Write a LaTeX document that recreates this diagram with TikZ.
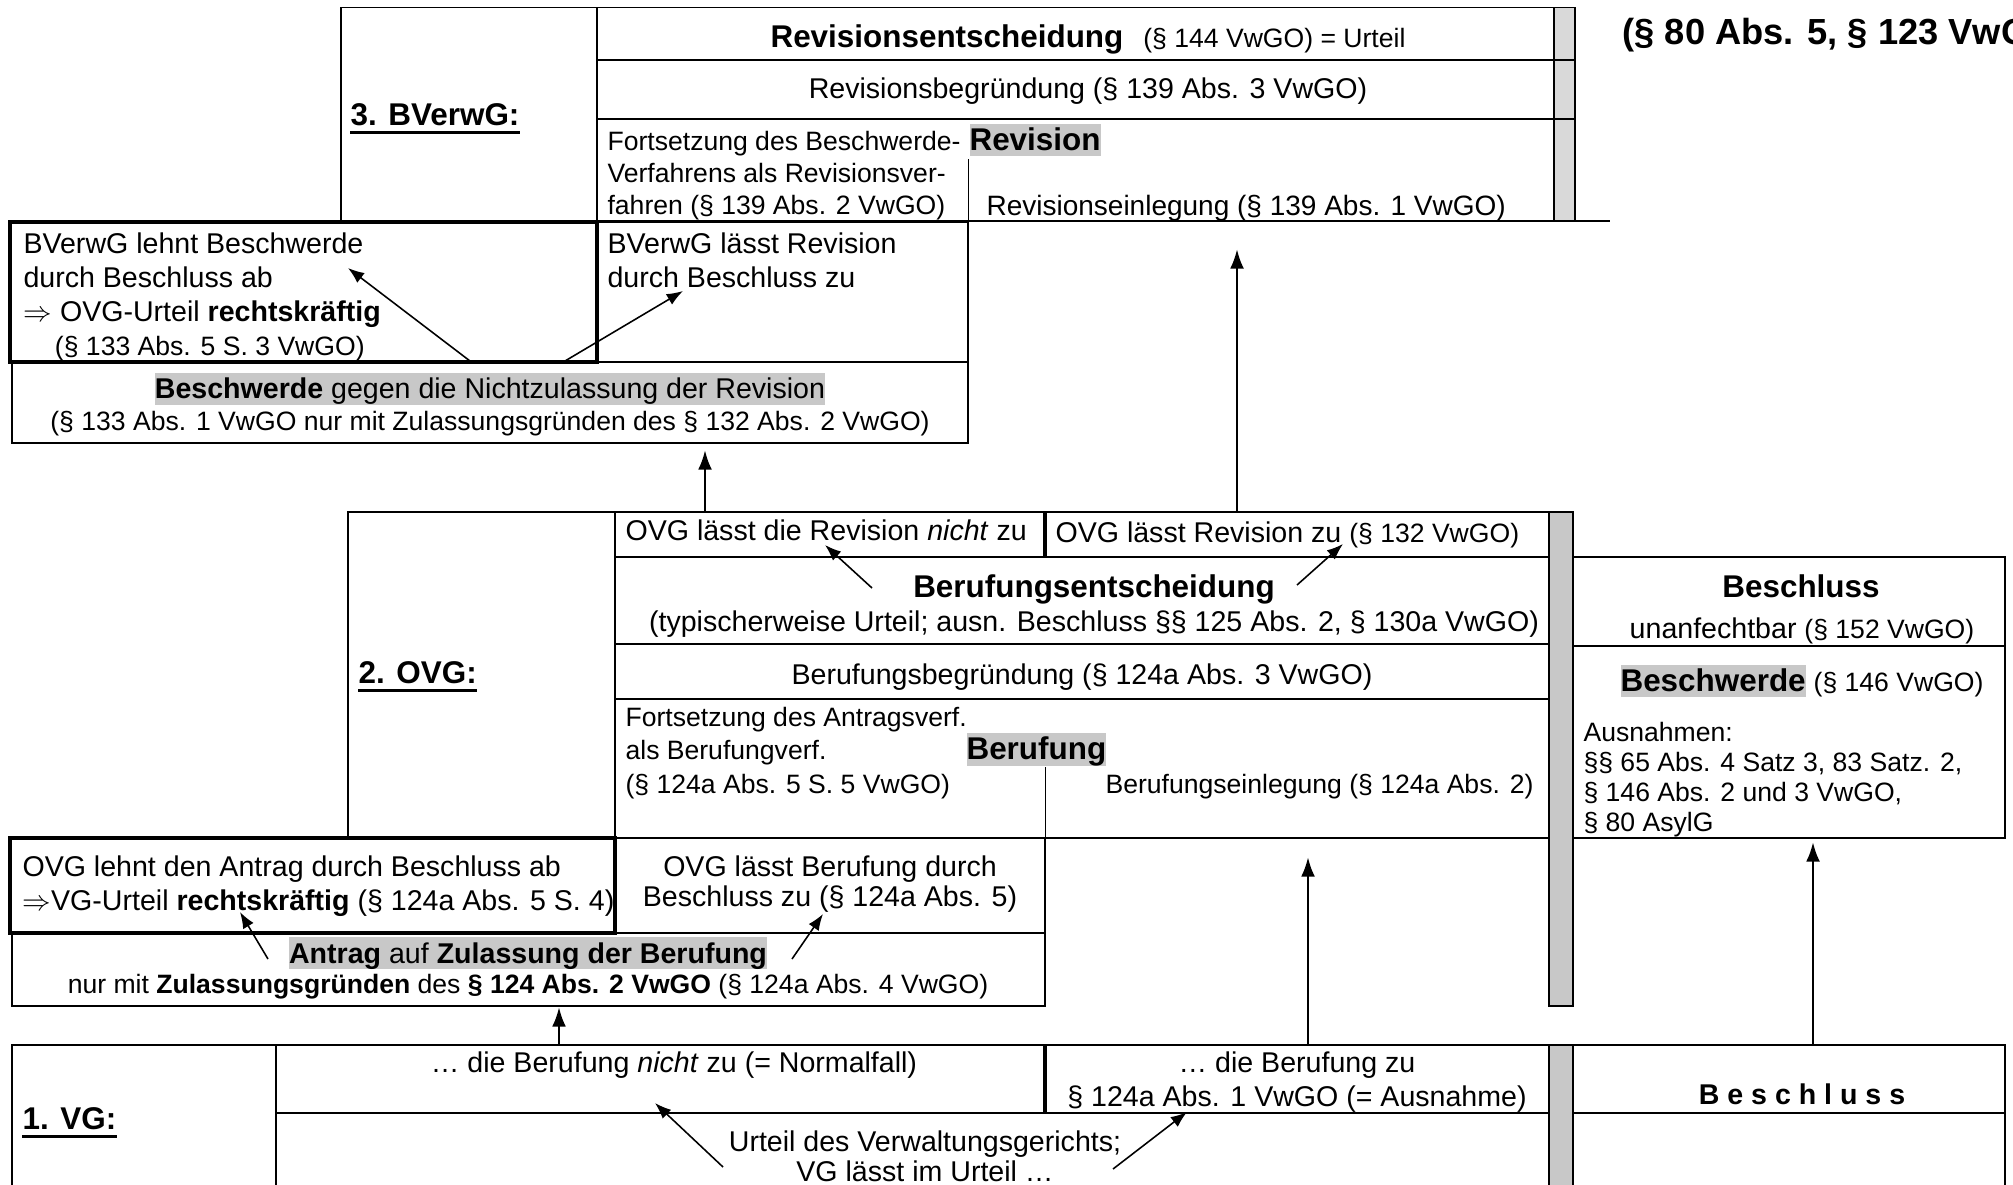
\documentclass[tikz,border=0pt]{standalone}
\usepackage{fontspec}
\setmainfont{Liberation Sans}
\usepackage{xcolor}
\usepackage{tikz}
\usetikzlibrary{arrows.meta}
\definecolor{hlgray}{HTML}{C8C8C8}
\definecolor{bargray}{HTML}{C8C8C8}
\definecolor{barlight}{HTML}{D9D9D9}
\newcommand{\hlg}[1]{{\setlength{\fboxsep}{0pt}\colorbox{hlgray}{\rule[-0.21em]{0pt}{1.12em}#1}}}
\newcommand{\parsz}{\fontsize{9.3}{11}\selectfont}
\newcommand{\hdr}{\fontsize{11}{13}\selectfont\bfseries}

\begin{document}
\begin{tikzpicture}[x=0.35pt,y=-0.35pt,
 cell/.style={line width=0.6pt},
 thk/.style={line width=1.4pt},
 fine/.style={line width=0.35pt},
 bar/.style={draw,line width=0.6pt,fill=bargray},
 txt/.style={anchor=base west,inner sep=0pt,align=left,font=\fontsize{10}{11.9}\selectfont},
 ctxt/.style={anchor=base,inner sep=0pt,align=center,font=\fontsize{10}{11.9}\selectfont},
 lbl/.style={anchor=base west,inner sep=0pt,font=\fontsize{11}{13}\selectfont\bfseries},
 arr/.style={-{Latex[length=2mm,width=1.5mm]},line width=0.55pt},
 uarr/.style={-{Latex[length=2.4mm,width=1.7mm]},line width=0.95pt}
]
\useasboundingbox (0,0) rectangle (2013,1184);

% 3. BVerwG
\draw[cell,fill=barlight] (1554,7.5) rectangle (1575,221);
\draw[cell] (341,222) -- (341,7.5) -- (1575,7.5);
\draw[cell] (597,7.5) -- (597,222);
\draw[cell] (597,60) -- (1575,60);
\draw[cell] (597,119) -- (1575,119);
\draw[cell] (597,221) -- (1610,221);
\draw[fine] (968,159) -- (968,221);
\draw[thk] (10,222) rectangle (597,362);
\draw[cell] (597,222) -- (968,222) -- (968,362);
\draw[cell] (12,362) rectangle (968,443);

% 2. OVG
\draw[cell] (348,838) -- (348,512) -- (1549,512);
\draw[bar] (1549,512) rectangle (1573,1006);
\draw[cell] (615,512) -- (615,838);
\draw[thk] (1045,512) -- (1045,557);
\foreach \yy in {557,644,699,838}
  \draw[cell] (615,\yy) -- (1549,\yy);
\draw[fine] (1045,767) -- (1045,838);
\draw[thk] (10,838) rectangle (615,933);
\draw[cell] (615,838) -- (1045,838) -- (1045,933);
\draw[cell] (12,933) rectangle (1045,1006);
\draw[cell] (1573,557) rectangle (2005,838);
\draw[cell] (1573,646) -- (2005,646);

% 1. VG
\draw[cell] (12,1200) -- (12,1045) -- (1549,1045);
\draw[cell] (276,1045) -- (276,1200);
\draw[cell] (276,1113) -- (1549,1113);
\draw[thk] (1045,1045) -- (1045,1113);
\draw[bar] (1549,1045) rectangle (1573,1200);
\draw[cell] (1573,1045) -- (2005,1045) -- (2005,1200);
\draw[cell] (1573,1113) -- (2005,1113);

% texts (multi-line nodes sit on their last baseline)
\node[anchor=base west,inner sep=0pt,font=\fontsize{12.7}{15}\selectfont\bfseries] (eil) at (1622,44) {(§ 80 Abs. 5, § 123 VwGO)};

\node[lbl] (lab3) at (350,125) {3. BVerwG:};
\node[lbl] (lab2) at (358,683) {2. OVG:};
\node[lbl] (lab1) at (22,1129) {1. VG:};
\foreach \l in {lab3,lab2,lab1}
  \draw[line width=1.1pt] ([yshift=-2.6pt]\l.base west) -- ([yshift=-2.6pt]\l.base east);

\node[txt] (revent) at (770,47) {{\hdr Revisionsentscheidung}\hspace{7pt}{\parsz(§ 144 VwGO) = Urteil}};
\node[ctxt] (revbeg) at (1088,98) {Revisionsbegründung (§ 139 Abs. 3 VwGO)};
\node[txt,font=\fontsize{9.3}{11.2}\selectfont] (fortrev) at (607,214) {Fortsetzung des Beschwerde-\\Verfahrens als Revisionsver-\\fahren (§ 139 Abs. 2 VwGO)};
\node[txt] (revhl) at (969,150) {\hlg{\hdr Revision}};
\node[txt,font=\fontsize{9.8}{11.9}\selectfont] (reveinl) at (986,215) {Revisionseinlegung (§ 139 Abs. 1 VwGO)};

\node[txt] (bvlehnt) at (23,355) {BVerwG lehnt Beschwerde\\durch Beschluss ab\\$\Rightarrow$ OVG-Urteil \textbf{rechtskräftig}\\\hspace*{11pt}{\parsz(§ 133 Abs. 5 S. 3 VwGO)}};
\node[txt] (bvzul) at (607,287) {BVerwG lässt Revision\\durch Beschluss zu};
\node[ctxt,font=\fontsize{10}{10.9}\selectfont] (nzb) at (490,430) {\hlg{\textbf{Beschwerde} gegen die Nichtzulassung der Revision}\\{\parsz(§ 133 Abs. 1 VwGO nur mit Zulassungsgründen des § 132 Abs. 2 VwGO)}};

\node[txt] (ovgnicht) at (625,540) {OVG lässt die Revision \textit{nicht} zu};
\node[txt] (ovgzul) at (1055,542) {OVG lässt Revision zu {\parsz(§ 132 VwGO)}};
\node[ctxt,font=\fontsize{10}{11.9}\selectfont] (berent) at (1094,631) {{\hdr Berufungsentscheidung}\\(typischerweise Urteil; ausn. Beschluss §§ 125 Abs. 2, § 130a VwGO)};
\node[ctxt] (berbeg) at (1082,684) {Berufungsbegründung (§ 124a Abs. 3 VwGO)};
\node[txt,font=\fontsize{9.3}{11.6}\selectfont] (fortber) at (625,793) {Fortsetzung des Antragsverf.\\als Berufungverf.\\(§ 124a Abs. 5 S. 5 VwGO)};
\node[txt] (berhl) at (966,759) {\hlg{\hdr Berufung}};
\node[txt,font=\parsz] (bereinl) at (1105,793) {Berufungseinlegung (§ 124a Abs. 2)};

\node[txt] (ovglehnt) at (22,910) {OVG lehnt den Antrag durch Beschluss ab\\$\Rightarrow$VG-Urteil \textbf{rechtskräftig} (§ 124a Abs. 5 S. 4)};
\node[ctxt,font=\fontsize{10}{10.5}\selectfont] (ovgberzul) at (830,906) {OVG lässt Berufung durch\\Beschluss zu (§ 124a Abs. 5)};
\node[ctxt,font=\fontsize{10}{10.5}\selectfont] (antrag) at (528,993) {\hlg{\textbf{Antrag} auf \textbf{Zulassung der Berufung}}\\{\parsz nur mit \textbf{Zulassungsgründen} des \textbf{§ 124 Abs. 2 VwGO} (§ 124a Abs. 4 VwGO)}};

\node[ctxt] (beschl) at (1801,597) {\hdr Beschluss};
\node[ctxt] (unanf) at (1802,638) {unanfechtbar {\parsz(§ 152 VwGO)}};
\node[ctxt] (beschw) at (1802,691) {\hlg{\hdr Beschwerde} {\parsz(§ 146 VwGO)}};
\node[txt,font=\fontsize{9.3}{10.5}\selectfont] (ausn) at (1583,831) {Ausnahmen:\\§§ 65 Abs. 4 Satz 3, 83 Satz. 2,\\§ 146 Abs. 2 und 3 VwGO,\\§ 80 AsylG};

\node[ctxt] (vgnicht) at (674,1072) {… die Berufung \textit{nicht} zu (= Normalfall)};
\node[ctxt] (vgzu) at (1297,1106) {… die Berufung zu\\§ 124a Abs. 1 VwGO (= Ausnahme)};
\node[ctxt,font=\fontsize{10}{10.2}\selectfont] (vgurteil) at (925,1181) {Urteil des Verwaltungsgerichts;\\VG lässt im Urteil …};
\node[ctxt,font=\fontsize{10}{12}\selectfont\bfseries] (vgbeschl) at (1802,1104) {B e s c h l u s s};

% arrows
\coordinate (a1s) at (470,361); \coordinate (a1e) at (348,268);
\coordinate (a2s) at (565,361); \coordinate (a2e) at (683,291);
\coordinate (a3s) at (705,512); \coordinate (a3e) at (705,450);
\coordinate (a4s) at (1237,511); \coordinate (a4e) at (1237,249);
\coordinate (a5s) at (872,588); \coordinate (a5e) at (825,545);
\coordinate (a6s) at (1297,585); \coordinate (a6e) at (1343,544);
\coordinate (a7s) at (268,959); \coordinate (a7e) at (240,912);
\coordinate (a8s) at (792,959); \coordinate (a8e) at (823,914);
\coordinate (a9s) at (559,1045); \coordinate (a9e) at (559,1007);
\coordinate (a10s) at (1308,1045); \coordinate (a10e) at (1308,857);
\coordinate (a11s) at (1813,1045); \coordinate (a11e) at (1813,842);
\coordinate (a12s) at (723,1167); \coordinate (a12e) at (655,1103);
\coordinate (a13s) at (1113,1169); \coordinate (a13e) at (1187,1112);
\foreach \n in {1,2,5,6,7,8,12,13}
  \draw[arr] (a\n s) -- (a\n e);
\foreach \n in {3,4,9,10,11}
  \draw[uarr] (a\n s) -- (a\n e);
\end{tikzpicture}
\end{document}
